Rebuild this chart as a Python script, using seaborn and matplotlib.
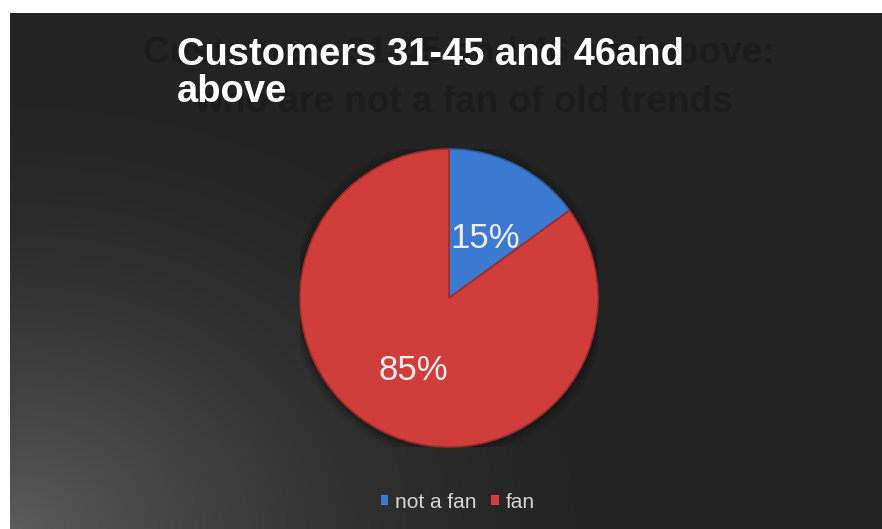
import numpy as np
import matplotlib
matplotlib.use("Agg")
import matplotlib.pyplot as plt
import seaborn as sns
from matplotlib import font_manager
from matplotlib.patches import Rectangle, Circle

categories = ["not a fan", "fan"]
shares = [15, 85]
slice_colors = ["#3c7ad2", "#d03e3c"]
edge_colors = ["#2b5c9e", "#a02c2a"]
title_text = "Customers 31-45 and 46and\nabove"
ghost_lines = ["Customers 31-45 and 46 and above:", "who are not a fan of old trends"]

sns.set_theme(style="white")
plt.rcParams["font.family"] = ["Liberation Sans", "DejaVu Sans"]

names = {f.name for f in font_manager.fontManager.ttflist}
narrow = "Liberation Sans Narrow" if "Liberation Sans Narrow" in names else "Liberation Sans"

W, H = 882, 529
fig = plt.figure(figsize=(W / 100, H / 100), dpi=100)
fig.patch.set_facecolor("white")
renderer = fig.canvas.get_renderer()


def fit_width(txt, target_px):
    """Scale a text's font size so its rendered width is target_px."""
    bb = txt.get_window_extent(renderer)
    txt.set_fontsize(txt.get_fontsize() * target_px / bb.width)


# dark panel with a soft light glow in the lower-left corner
bg = fig.add_axes([10 / W, 0, (W - 10) / W, (H - 13) / H])
bg.set_axis_off()
ny, nx = 260, 440
yy, xx = np.mgrid[0:ny, 0:nx]
d = np.sqrt(((xx - 0) / nx) ** 2 * 1.6 + ((yy - ny) / ny) ** 2 * 1.0)
glow = np.clip(1 - d / 0.85, 0, 1) ** 1.6
val = 0.14 + glow * 0.22
bg.imshow(np.dstack([val, val, val]), extent=[0, 1, 0, 1], aspect="auto", origin="upper")
bg.set_xlim(0, 1)
bg.set_ylim(0, 1)

# faded subtitle behind the heading
g1 = fig.text(143 / W, 1 - 63 / H, ghost_lines[0], color="#1c1c1c", fontsize=24,
              fontweight="bold", ha="left", va="baseline")
fit_width(g1, 633)
g2 = fig.text(733 / W, 1 - 112 / H, ghost_lines[1], color="#1c1c1c", fontsize=24,
              ha="right", va="baseline", fontweight="bold")
g2.set_fontsize(g1.get_fontsize())

# heading
t1 = fig.text(177 / W, 1 - 65 / H, title_text.split("\n")[0], color="white", fontsize=25,
              fontweight="bold", ha="left", va="baseline", family=[narrow, "DejaVu Sans"])
fit_width(t1, 506)
t2 = fig.text(177 / W, 1 - 102 / H, title_text.split("\n")[1], color="white",
              fontsize=t1.get_fontsize(), fontweight="bold", ha="left", va="baseline",
              family=[narrow, "DejaVu Sans"])

# pie
cx, cy, r = 449, 298, 149
ax = fig.add_axes([(cx - r) / W, 1 - (cy + r) / H, 2 * r / W, 2 * r / H])
ax.set_axis_off()
for k, a in enumerate([0.10, 0.08, 0.06, 0.04]):
    ax.add_patch(Circle((0, -0.01), 1.0 + 0.018 * (k + 1), facecolor="black",
                        alpha=a, edgecolor="none", zorder=0))
wedges, _ = ax.pie(shares, colors=slice_colors, startangle=90, counterclock=False,
                   wedgeprops=dict(linewidth=1.2))
for w, ec in zip(wedges, edge_colors):
    w.set_edgecolor(ec)
    w.set_zorder(2)
ax.set_xlim(-1, 1)
ax.set_ylim(-1, 1)
ax.set_aspect("equal")

label_pos = [(485, 238), (413, 371)]
for (lx, ly), v in zip(label_pos, shares):
    fig.text(lx / W, 1 - ly / H, f"{v}%", color="#f0ecec", fontsize=25,
             ha="center", va="center", family=[narrow, "DejaVu Sans"])

# legend
handles = [Rectangle((0, 0), 1, 1, facecolor=c, edgecolor="none") for c in slice_colors]
leg = fig.legend(handles, categories, loc="center", bbox_to_anchor=(458 / W, 1 - 502 / H),
                 ncol=2, frameon=False, handlelength=0.35, handleheight=0.35,
                 handletextpad=0.35, columnspacing=0.7,
                 prop=dict(family=[narrow, "DejaVu Sans"], size=15))
for t in leg.get_texts():
    t.set_color("#d6d6d6")

fig.savefig("out.png", dpi=100, facecolor=fig.get_facecolor())
